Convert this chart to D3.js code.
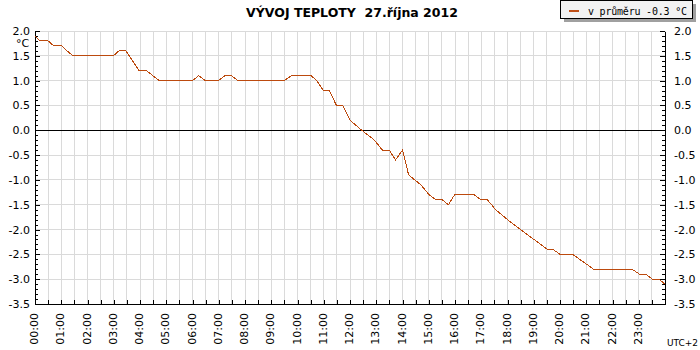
<!DOCTYPE html>
<html>
<head>
<meta charset="utf-8">
<script src="https://cdn.jsdelivr.net/npm/d3@7"></script>
<style>
  body { margin: 0; background: #fff; }
  svg { display: block; font-family: "DejaVu Sans", Verdana, sans-serif; }
</style>
</head>
<body>
<svg id="chart" width="700" height="350"></svg>
<script>
// temperature readings (time of day, °C)
var times = ["00:00","00:11","00:30","00:43","01:01","01:13","01:27","02:59","03:12","03:28",
             "03:58","04:15","04:44","06:00","06:14","06:29","06:59","07:14","07:29","07:44",
             "09:30","09:46","10:31","10:44","10:59","11:13","11:29","11:43","12:00","12:27",
             "12:56","13:14","13:30","13:44","14:00","14:14","14:42","15:01","15:16","15:31",
             "15:45","15:59","16:44","16:59","17:14","17:33","18:00","18:30","19:31","19:44",
             "20:00","20:29","21:17","22:45","23:02","23:16","23:31","23:46","24:00"];
var temps = [1.9, 1.8, 1.8, 1.7, 1.7, 1.6, 1.5, 1.5, 1.6, 1.6,
             1.2, 1.2, 1.0, 1.0, 1.1, 1.0, 1.0, 1.1, 1.1, 1.0,
             1.0, 1.1, 1.1, 1.0, 0.8, 0.8, 0.5, 0.5, 0.2, 0.0,
             -0.2, -0.4, -0.4, -0.6, -0.4, -0.9, -1.1, -1.3, -1.4, -1.4,
             -1.5, -1.3, -1.3, -1.4, -1.4, -1.6, -1.8, -2.0, -2.4, -2.4,
             -2.5, -2.5, -2.8, -2.8, -2.9, -2.9, -3.0, -3.0, -3.1];
var hourLabels = ["00:00","01:00","02:00","03:00","04:00","05:00","06:00","07:00","08:00",
                  "09:00","10:00","11:00","12:00","13:00","14:00","15:00","16:00","17:00",
                  "18:00","19:00","20:00","21:00","22:00","23:00"];
var title = "VÝVOJ TEPLOTY  27.října 2012";
var legendText = "v průměru -0.3 °C";
var lineColor = "#bc4a0e";

const plotLeft = 35, plotRight = 665, plotTop = 31, plotBottom = 304;
var svg = d3.select("#chart");

function toHours(t) {
    var p = t.split(":");
    return +p[0] + (+p[1]) / 60;
}
var data = times.map(function(t, i) { return {h: toHours(t), v: temps[i]}; });

var x = d3.scaleLinear().domain([0, 24]).range([plotLeft, plotRight]);
var y = d3.scaleLinear().domain([-3.5, 2]).range([plotBottom, plotTop]);

var majorY = d3.range(-7, 5).map(k => k / 2);
var minorY = d3.range(-35, 21).map(k => k / 10);
var halfHours = d3.range(0, 49).map(k => k / 2);
var fmt = d => d.toFixed(1);

// grid
var grid = svg.append("g").attr("shape-rendering", "crispEdges");
grid.selectAll(".vgrid")
    .data(halfHours)
    .enter().append("line")
    .attr("x1", d => x(d)).attr("x2", d => x(d))
    .attr("y1", plotTop).attr("y2", plotBottom)
    .attr("stroke", "#dadada");
grid.selectAll(".hgrid")
    .data(majorY)
    .enter().append("line")
    .attr("x1", plotLeft).attr("x2", plotRight)
    .attr("y1", d => y(d)).attr("y2", d => y(d))
    .attr("stroke", "#dadada");

// zero line
svg.append("line")
    .attr("x1", plotLeft).attr("x2", plotRight)
    .attr("y1", y(0)).attr("y2", y(0))
    .attr("stroke", "#000")
    .attr("shape-rendering", "crispEdges");

// axes
function styleAxis(g) {
    g.attr("shape-rendering", "crispEdges")
     .attr("font-family", "DejaVu Sans, sans-serif")
     .attr("font-size", 11);
    g.selectAll("text").attr("fill", "#000");
}
svg.append("g").attr("transform", `translate(${plotLeft},0)`)
    .call(d3.axisLeft(y).tickValues(minorY).tickSize(-3).tickSizeOuter(0).tickFormat(""))
    .call(styleAxis);
svg.append("g").attr("transform", `translate(${plotLeft},0)`)
    .call(d3.axisLeft(y).tickValues(majorY).tickSize(-5).tickSizeOuter(0).tickPadding(5).tickFormat(fmt))
    .call(styleAxis);
svg.append("g").attr("transform", `translate(${plotRight},0)`)
    .call(d3.axisRight(y).tickValues(minorY).tickSize(-3).tickSizeOuter(0).tickFormat(""))
    .call(styleAxis);
svg.append("g").attr("transform", `translate(${plotRight},0)`)
    .call(d3.axisRight(y).tickValues(majorY).tickSize(-5).tickSizeOuter(0).tickPadding(9).tickFormat(fmt))
    .call(styleAxis);
svg.append("g").attr("transform", `translate(0,${plotBottom})`)
    .call(d3.axisBottom(x).tickValues(halfHours).tickSize(-4).tickSizeOuter(0).tickFormat(""))
    .call(styleAxis);

// hour labels (rotated)
svg.selectAll(".hour")
    .data(hourLabels)
    .enter().append("text")
    .attr("transform", (d, i) => `translate(${x(i) + 3},313) rotate(-90)`)
    .attr("text-anchor", "end")
    .attr("font-size", 11)
    .text(d => d);

svg.append("text").attr("x", 698).attr("y", 346).attr("font-size", 9)
    .attr("text-anchor", "end").text("UTC+2");
svg.append("text").attr("x", 16).attr("y", 47).attr("font-size", 11).text("°C");

// temperature line
svg.append("path")
    .datum(data)
    .attr("fill", "none")
    .attr("stroke", lineColor)
    .attr("stroke-width", 1)
    .attr("shape-rendering", "crispEdges")
    .attr("d", d3.line().x(d => x(d.h)).y(d => y(d.v)));

// title
svg.append("text")
    .attr("x", 352).attr("y", 17)
    .attr("text-anchor", "middle")
    .attr("font-size", 12.5)
    .attr("font-weight", "bold")
    .style("white-space", "pre")
    .text(title);

// legend
var lg = svg.append("g").attr("shape-rendering", "crispEdges");
lg.append("rect").attr("x", 563.5).attr("y", 3.5).attr("width", 132).attr("height", 18).attr("fill", "#a0a0a0");
lg.append("rect").attr("x", 560.5).attr("y", 0.5).attr("width", 132).attr("height", 18)
    .attr("fill", "#f2f2f2").attr("stroke", "#000");
lg.append("line").attr("x1", 569).attr("x2", 579).attr("y1", 11).attr("y2", 11)
    .attr("stroke", "#c05018").attr("stroke-width", 2);
svg.append("text").attr("x", 588).attr("y", 14.5)
    .attr("font-family", "DejaVu Sans Mono, monospace")
    .attr("font-size", 10)
    .attr("textLength", 99)
    .text(legendText);
</script>
</body>
</html>
